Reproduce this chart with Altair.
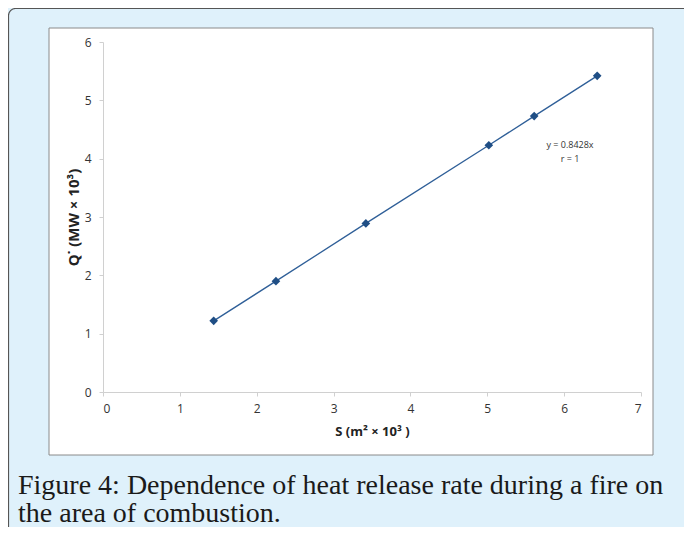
import altair as alt
import pandas as pd

# Data
area = [1.44, 2.25, 3.42, 5.02, 5.61, 6.43]
heat = [1.22, 1.90, 2.89, 4.23, 4.73, 5.42]
x_ticks = [0, 1, 2, 3, 4, 5, 6, 7]
y_ticks = [0, 1, 2, 3, 4, 5, 6]
eq_lines = ["y = 0.8428x", "r = 1"]
caption = ["Figure 4: Dependence of heat release rate during a fire on",
           "the area of combustion."]

df = pd.DataFrame({"S": area, "Q": heat})

W, H = 538, 350
PAD_L, PAD_T = 95, 34
BLUE_BG = "#dff1fb"
LINE_C = "#2f5f98"
MARK_C = "#1f4e85"

one = pd.DataFrame({"a": [0]})

outer = alt.Chart(one).mark_rect(
    fill=BLUE_BG, stroke="#555555", strokeWidth=1.2, cornerRadius=7, clip=False
).encode(
    x=alt.value(-PAD_L + 0.5), x2=alt.value(700),
    y=alt.value(-PAD_T + 0.5), y2=alt.value(600)
)

inner = alt.Chart(one).mark_rect(
    fill="white", stroke="#8a8a8a", strokeWidth=1, clip=False
).encode(
    x=alt.value(49 - 103), x2=alt.value(653 - 103),
    y=alt.value(28 - 42), y2=alt.value(455 - 42)
)

xscale = alt.Scale(domain=[0, 7], nice=False, zero=True)
yscale = alt.Scale(domain=[0, 6], nice=False, zero=True)

xaxis = alt.Axis(values=x_ticks, format="d", title="S (m² × 10³ )", grid=False, zindex=1,
                 domainColor="#d0d0d0", tickColor="#d0d0d0", tickSize=4,
                 labelFont="Open Sans", labelFontSize=12, labelColor="#333333",
                 labelPadding=7,
                 titleFont="Open Sans", titleFontSize=13, titleFontWeight="bold",
                 titleColor="#222222", titlePadding=11)
yaxis = alt.Axis(values=y_ticks, format="d", title="Q˙  (MW × 10³)", grid=False, zindex=1,
                 domainColor="#d0d0d0", tickColor="#d0d0d0", tickSize=4,
                 labelFont="Open Sans", labelFontSize=12, labelColor="#333333",
                 labelPadding=8,
                 titleFont="Open Sans", titleFontSize=15, titleFontWeight="bold",
                 titleColor="#222222", titlePadding=3)

line = alt.Chart(df).mark_line(color=LINE_C, strokeWidth=1.3).encode(
    x=alt.X("S:Q", scale=xscale, axis=xaxis),
    y=alt.Y("Q:Q", scale=yscale, axis=yaxis),
)
pts = alt.Chart(df).mark_point(
    shape="diamond", filled=True, color=MARK_C, opacity=1, size=75
).encode(
    x=alt.X("S:Q", scale=xscale),
    y=alt.Y("Q:Q", scale=yscale),
)


def text_layer(txt, px, py, **kw):
    return alt.Chart(one).mark_text(text=txt, clip=False, **kw).encode(
        x=alt.value(px - 103), y=alt.value(py - 42)
    )


eq1 = text_layer(eq_lines[0], 570, 145, font="Open Sans", fontSize=9,
                 color="#333333", align="center", baseline="middle")
eq2 = text_layer(eq_lines[1], 570, 159, font="Open Sans", fontSize=9,
                 color="#333333", align="center", baseline="middle")
cap1 = text_layer(caption[0], 18, 486, font="Liberation Serif", fontSize=28,
                  color="#1a1a1a", align="left", baseline="middle")
cap2 = text_layer(caption[1], 18, 514, font="Liberation Serif", fontSize=28,
                  color="#1a1a1a", align="left", baseline="middle")

chart = alt.layer(outer, inner, line, pts, eq1, eq2, cap1, cap2).properties(
    width=W, height=H,
    autosize=alt.AutoSizeParams(type="none"),
    padding={"left": PAD_L, "top": PAD_T, "right": 676 - PAD_L - W, "bottom": 519 - PAD_T - H},
    background=BLUE_BG,
).configure_view(stroke=None)

chart.save("out.html", embed_options={"renderer": "svg", "actions": False})
